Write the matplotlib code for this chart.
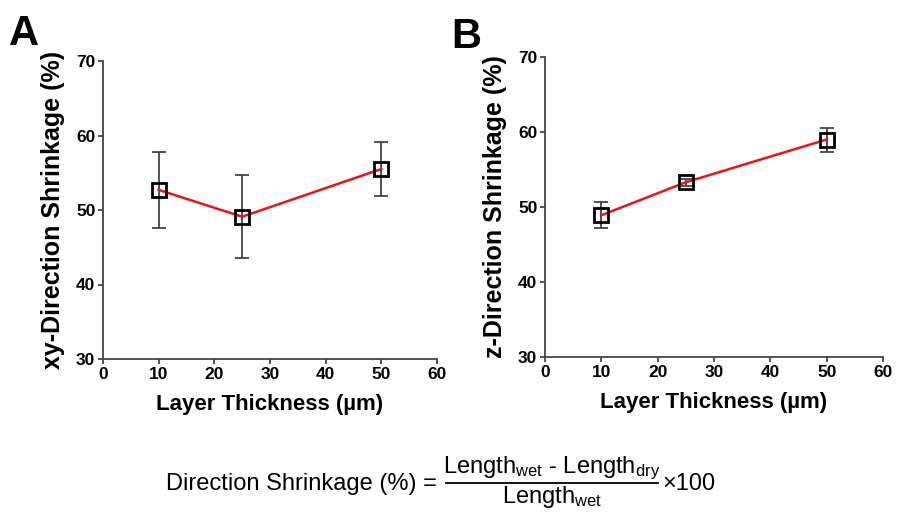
import matplotlib
matplotlib.use("Agg")
import matplotlib.pyplot as plt
from matplotlib.lines import Line2D

plt.rcParams['font.family'] = ['Liberation Sans', 'DejaVu Sans']
plt.rcParams['mathtext.default'] = 'regular'

thickness = [10, 25, 50]
xy_shrink = [52.7, 49.1, 55.5]
xy_err = [5.1, 5.6, 3.6]
z_shrink = [48.9, 53.3, 59.0]
z_err = [1.75, 0.5, 1.6]
xticks = [0, 10, 20, 30, 40, 50, 60]
yticks = [30, 40, 50, 60, 70]

fig = plt.figure(figsize=(8.99, 5.16), dpi=100)

W, H = 899, 516
def ax_rect(l, r, t, b):
    return [l / W, 1 - b / H, (r - l) / W, (b - t) / H]

axA = fig.add_axes(ax_rect(103, 437, 61, 359))
axB = fig.add_axes(ax_rect(545, 883, 57, 357))

spine_col = '#444444'
for ax, y, e, lab in [(axA, xy_shrink, xy_err, 'xy-Direction Shrinkage (%)'),
                      (axB, z_shrink, z_err, 'z-Direction Shrinkage (%)')]:
    ax.errorbar(thickness, y, yerr=e, fmt='none', ecolor='#444444', elinewidth=1.3,
                capsize=4.7, capthick=1.3, zorder=2)
    ax.plot(thickness, y, color='#e8141b', lw=1.8, zorder=3)
    ax.plot(thickness, y, ls='none', marker='s', ms=9.5, mfc='none', mec='black',
            mew=2, zorder=4)
    ax.set_xlim(0, 60)
    ax.set_ylim(30, 70)
    ax.set_xticks(xticks)
    ax.set_yticks(yticks)
    ax.spines['top'].set_visible(False)
    ax.spines['right'].set_visible(False)
    for s in ['left', 'bottom']:
        ax.spines[s].set_color(spine_col)
        ax.spines[s].set_linewidth(1.3)
    ax.tick_params(direction='out', length=3.5, width=1.3, color=spine_col,
                   labelsize=12.5, pad=2)
    for t in ax.get_xticklabels() + ax.get_yticklabels():
        t.set_fontweight('bold')
    ax.set_xlabel('Layer Thickness (µm)', fontsize=16, fontweight='bold', labelpad=9)
    ax.set_ylabel(lab, fontsize=18, fontweight='bold', labelpad=8)

fig.text(9 / W, 1 - 45 / H, 'A', fontsize=30, fontweight='bold', va='baseline')
fig.text(451 / W, 1 - 48 / H, 'B', fontsize=30, fontweight='bold', va='baseline')

# formula
fs = 17
fig.text(437 / W, 1 - 490 / H, 'Direction Shrinkage (%) =', fontsize=fs,
         ha='right', va='baseline')
fig.text(552 / W, 1 - 473 / H, r'Length$_{wet}$ - Length$_{dry}$', fontsize=fs,
         ha='center', va='baseline')
fig.text(552 / W, 1 - 503 / H, r'Length$_{wet}$', fontsize=fs,
         ha='center', va='baseline')
fig.add_artist(Line2D([446 / W, 658 / W], [1 - 483 / H, 1 - 483 / H],
                      transform=fig.transFigure, color='black', lw=1.3))
fig.text(662 / W, 1 - 490 / H, '×100', fontsize=fs, ha='left', va='baseline')

fig.savefig('out.png', dpi=100)
